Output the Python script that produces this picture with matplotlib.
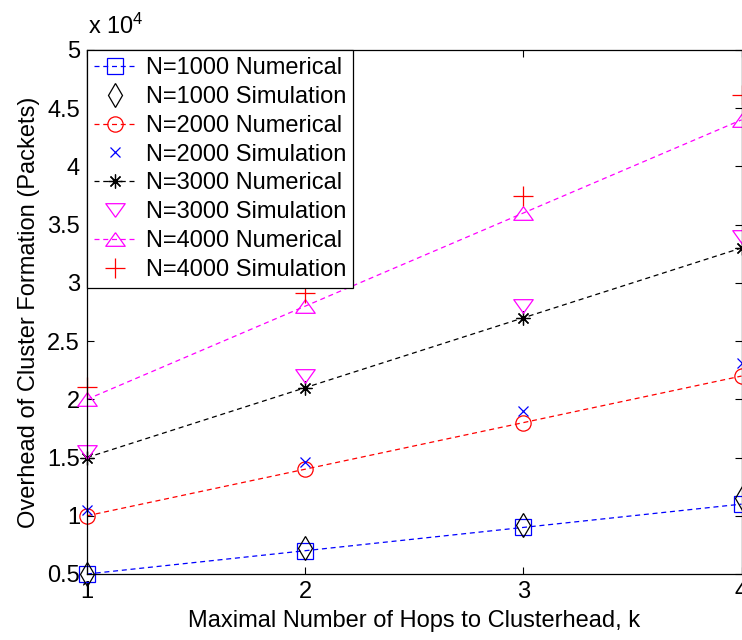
import matplotlib
matplotlib.use("Agg")
import matplotlib.pyplot as plt
from matplotlib.ticker import FuncFormatter, MultipleLocator


# Data: overhead of cluster formation (packets) vs. max hops k
HOPS = [1, 2, 3, 4]

N1000_NUM = [5000, 7000, 9000, 11000]
N1000_SIM = [5000, 7200, 9200, 11500]
N2000_NUM = [10000, 14000, 18000, 22000]
N2000_SIM = [10500, 14600, 19000, 23100]
N3000_NUM = [15000, 21000, 27000, 33000]
N3000_SIM = [15500, 22000, 28000, 33900]
N4000_NUM = [20000, 28000, 36000, 44000]
N4000_SIM = [21100, 29100, 37500, 46100]

LABELS = [
    "N=1000 Numerical", "N=1000 Simulation",
    "N=2000 Numerical", "N=2000 Simulation",
    "N=3000 Numerical", "N=3000 Simulation",
    "N=4000 Numerical", "N=4000 Simulation",
]

# Style
BLUE = "#0000FF"
RED = "#FF0000"
MAGENTA = "#FF00FF"
BLACK = "#000000"
FS = 17

# wide, flat triangles
TRI_UP = [(0, 0.7), (-1, -0.7), (1, -0.7), (0, 0.7)]
TRI_DOWN = [(0, -0.7), (-1, 0.7), (1, 0.7), (0, -0.7)]

plt.rcParams.update({
    "font.family": ["Liberation Sans", "DejaVu Sans"],
    "font.size": FS,
    "mathtext.fontset": "custom",
    "mathtext.rm": "Liberation Sans",
    "mathtext.it": "Liberation Sans",
    "mathtext.bf": "Liberation Sans",
})

fig = plt.figure(figsize=(7.42, 6.40), dpi=100)
ax = fig.add_axes([87 / 742, 66 / 640, 654.5 / 742, 524 / 640])

dash = (4, 3)
line_kw = dict(linestyle="--", dashes=dash, linewidth=0.9, clip_on=False,
               markerfacecolor="none", markeredgewidth=0.9)
sim_kw = dict(linestyle="none", clip_on=False, markerfacecolor="none",
              markeredgewidth=0.9)

ax.plot(HOPS, N1000_NUM, color=BLUE, marker="s", markersize=11, label=LABELS[0], **line_kw)
ax.plot(HOPS, N1000_SIM, color=BLACK, marker="d", markersize=12.5, label=LABELS[1], **sim_kw)
ax.plot(HOPS, N2000_NUM, color=RED, marker="o", markersize=11, label=LABELS[2], **line_kw)
ax.plot(HOPS, N2000_SIM, color=BLUE, marker="x", markersize=7, label=LABELS[3], **sim_kw)
ax.plot(HOPS, N3000_NUM, color=BLACK, marker=(8, 2, 0), markersize=10, label=LABELS[4], **line_kw)
ax.plot(HOPS, N3000_SIM, color=MAGENTA, marker=TRI_DOWN, markersize=14, label=LABELS[5], **sim_kw)
ax.plot(HOPS, N4000_NUM, color=MAGENTA, marker=TRI_UP, markersize=14, label=LABELS[6], **line_kw)
ax.plot(HOPS, N4000_SIM, color=RED, marker="+", markersize=14, label=LABELS[7], **sim_kw)

# Axes
ax.set_xlim(1, 4)
ax.set_ylim(5000, 50000)
ax.xaxis.set_major_locator(MultipleLocator(1))
ax.yaxis.set_major_locator(MultipleLocator(5000))
ax.yaxis.set_major_formatter(FuncFormatter(lambda v, _: f"{v / 1e4:g}"))
ax.tick_params(direction="in", length=5, width=0.8, top=True, right=True,
               labelsize=FS, pad=5)
for sp in ax.spines.values():
    sp.set_linewidth(0.9)

ax.set_xlabel("Maximal Number of Hops to Clusterhead, k", labelpad=5)
ax.set_ylabel("Overhead of Cluster Formation (Packets)", labelpad=5)

# Exponent label above the y axis
ax.annotate(r"x 10$^{4}$", xy=(0, 1), xycoords="axes fraction",
            xytext=(1, 8), textcoords="offset points",
            ha="left", va="bottom", fontsize=FS)

leg = ax.legend(loc="upper left", borderaxespad=0, fancybox=False,
                framealpha=1, edgecolor=BLACK, labelspacing=0.29,
                borderpad=0.3, handlelength=1.75, handletextpad=0.45,
                fontsize=FS)
leg.get_frame().set_linewidth(0.9)

fig.savefig("out.png", dpi=100)
